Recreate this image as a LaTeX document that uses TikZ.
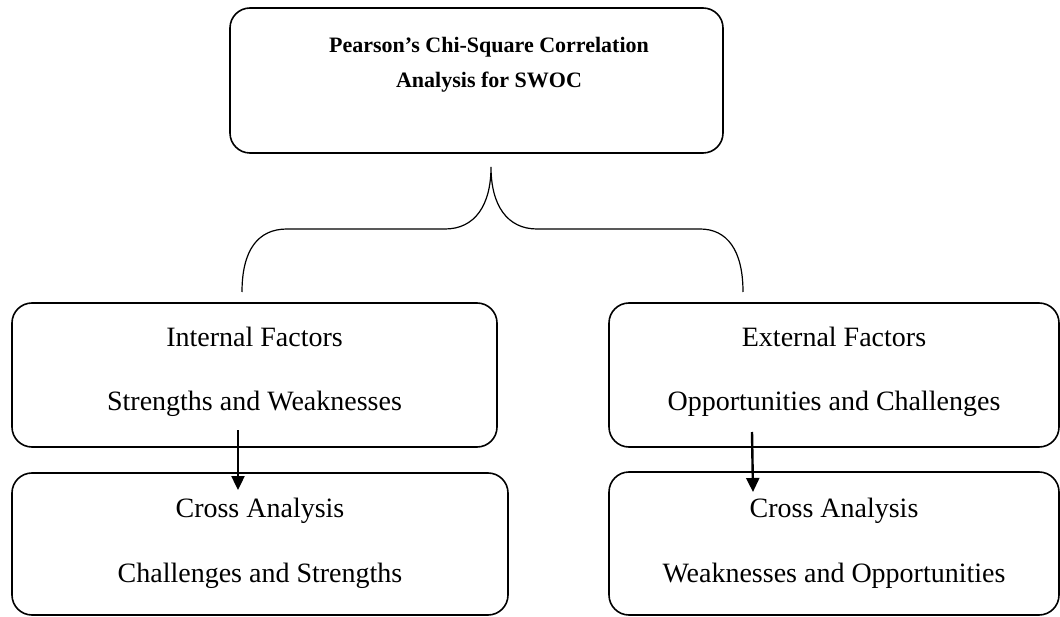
\documentclass[tikz,border=0pt]{standalone}
\usepackage{fontspec}
\setmainfont{Liberation Serif}
\usetikzlibrary{arrows.meta}
\begin{document}
\begin{tikzpicture}[x=1pt,y=-1pt,
  box/.style={draw=black, line width=1.6pt, rounded corners=20pt, inner sep=0pt},
  lbl/.style={anchor=base, inner sep=0pt, font=\fontsize{28}{30}\selectfont},
  ttl/.style={anchor=base, inner sep=0pt, font=\fontsize{22}{25}\selectfont\bfseries},
  arr/.style={line width=2.4pt, -{Triangle[length=14pt,width=13pt]}},
  brace/.style={line width=1.2pt}]
\useasboundingbox (0,0) rectangle (1060,617);
% boxes
\node[box, minimum width=493pt, minimum height=145pt] (top) at (476.5,80.5) {};
\node[box, minimum width=485pt, minimum height=144pt] (int) at (254.5,375) {};
\node[box, minimum width=496pt, minimum height=142pt] (cl) at (260,544) {};
\node[box, minimum width=450pt, minimum height=144pt] (ext) at (834,375) {};
\node[box, minimum width=450pt, minimum height=143pt] (cr) at (834,543.5) {};
% texts
\node[ttl] (t1) at (489,53) {Pearson’s Chi-Square Correlation};
\node[ttl] (t2) at (489,88) {Analysis for SWOC};
\node[lbl] (i1) at (254.5,347) {Internal Factors};
\node[lbl] (i2) at (254.5,410) {Strengths and Weaknesses};
\node[lbl] (c1) at (260,517) {Cross Analysis};
\node[lbl] (c2) at (260,582) {Challenges and Strengths};
\node[lbl] (e1) at (834,347) {External Factors};
\node[lbl] (e2) at (834,410) {Opportunities and Challenges};
\node[lbl] (d1) at (834,517) {Cross Analysis};
\node[lbl] (d2) at (834,582) {Weaknesses and Opportunities};
% brace
\coordinate (tip) at (491,167);
\coordinate (bl) at (242,292);
\coordinate (br) at (743,292);
\draw[brace] (bl) .. controls (242,250) and (258,229) .. (287,229) -- (445,229)
  .. controls (475,229) and (491,205) .. (tip)
  .. controls (491,205) and (507,229) .. (537,229) -- (700,229)
  .. controls (727,229) and (743,250) .. (br);
% arrows
\coordinate (a1s) at (238,430);
\coordinate (a1e) at (238,490);
\coordinate (a2s) at (752,432);
\coordinate (a2e) at (753,492);
\draw[arr] (a1s) -- (a1e);
\draw[arr] (a2s) -- (a2e);
\end{tikzpicture}
\end{document}
